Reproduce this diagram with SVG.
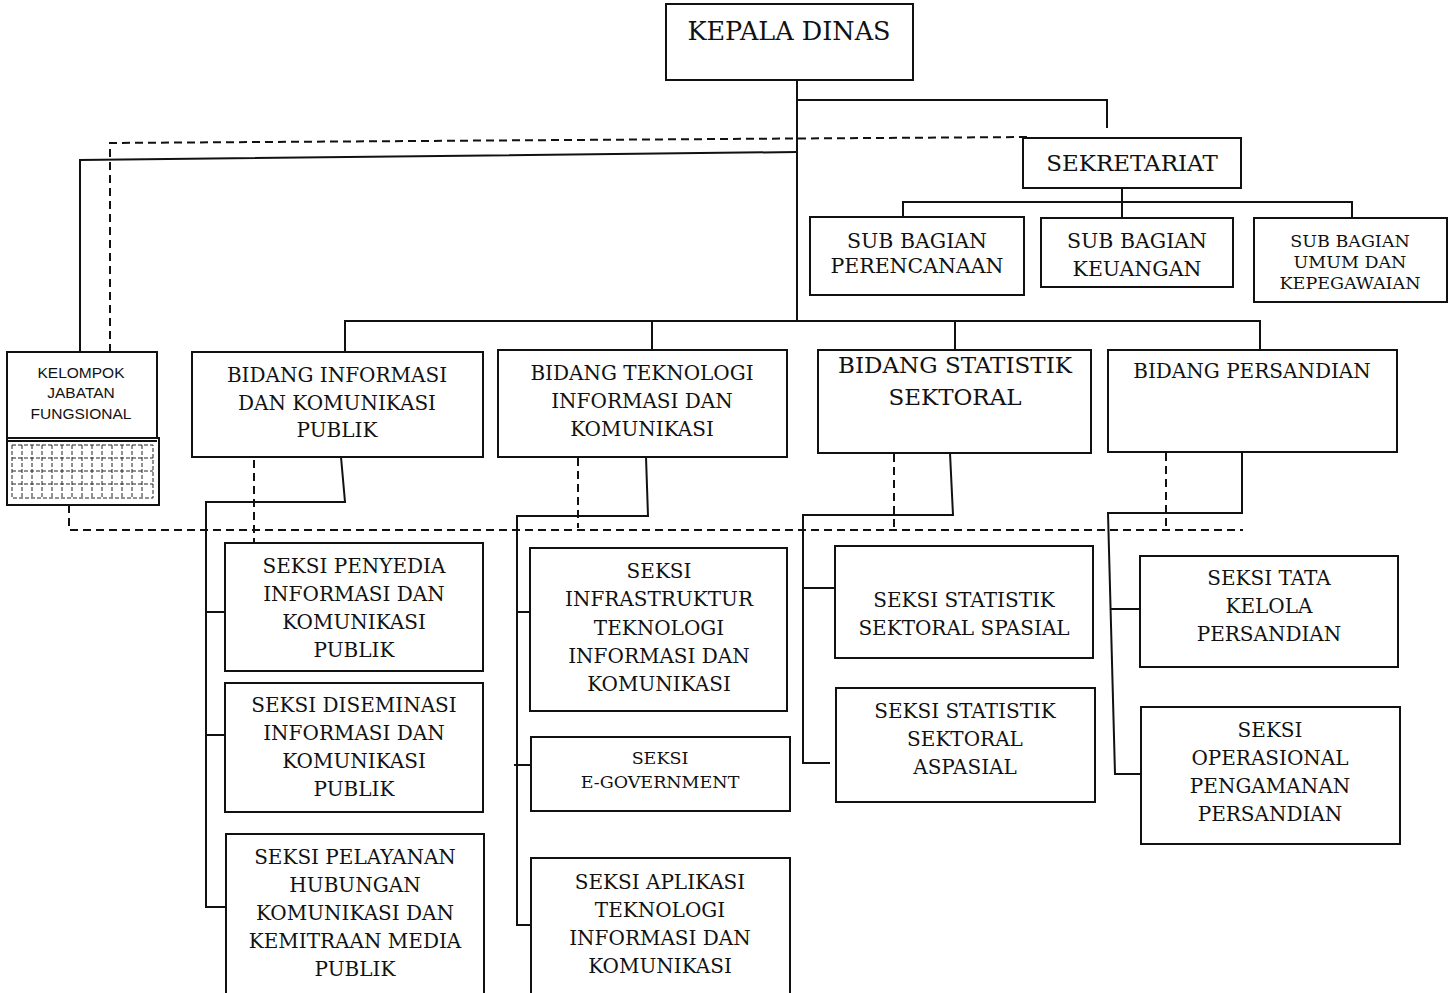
<svg xmlns="http://www.w3.org/2000/svg" width="1454" height="993" viewBox="0 0 1454 993">
<style>
.box{fill:#fff;stroke:#111;stroke-width:2}
.ln{fill:none;stroke:#111;stroke-width:2}
.ds{fill:none;stroke:#111;stroke-width:2;stroke-dasharray:8 5}
.gd{fill:none;stroke:#222;stroke-width:1;stroke-dasharray:4 2}
text{font-family:"DejaVu Serif","Liberation Serif",serif;fill:#111;text-anchor:middle;dominant-baseline:central}
.t{font-size:20px}
.s{font-size:17.5px}
.b{font-size:20px}
.sb{font-size:20.5px}
.a{font-family:"Liberation Sans",Arial,sans-serif;font-size:15.5px}
</style>
<rect width="1454" height="993" fill="#fff"/>
<g id="connectors">
<path class="ln" d="M797 80 V322"/>
<path class="ln" d="M797 100 H1107 V128"/>
<path class="ln" d="M797 152 L80 160 V352"/>
<path class="ds" d="M110 352 V143 L1027 137"/>
<path class="ln" d="M1122 188 V202 M903 217 V202 H1352 V218 M1122 202 V218"/>
<path class="ln" d="M345 352 V321 H1260 V350 M652 321 V350 M955 321 V350"/>
<path class="ds" d="M69 505 V530 H1243"/>
<path class="ln" d="M341 457 L345 502 H206 V907 H226 M206 612 H226 M206 735 H226"/>
<path class="ds" d="M254 460 V542"/>
<path class="ln" d="M646 457 L648 516 H517 V925 H531 M517 612 H531 M514 765 H531"/>
<path class="ds" d="M578 458 V528"/>
<path class="ln" d="M950 453 L953 515 H803 V763 H830 M803 588 H836"/>
<path class="ds" d="M894 454 V528"/>
<path class="ln" d="M1242 452 V513 H1108 L1115 774 H1141 M1110 609 H1140"/>
<path class="ds" d="M1166 453 V528"/>
</g>
<g id="kepala-dinas">
<rect class="box" x="666" y="4" width="247" height="76"/>
<text x="789" y="31" style="font-size:25.5px">KEPALA DINAS</text>
</g>
<g id="sekretariat">
<rect class="box" x="1023" y="138" width="218" height="50"/>
<text x="1132" y="163" style="font-size:23px">SEKRETARIAT</text>
</g>
<g id="sub-perencanaan">
<rect class="box" x="810" y="217" width="214" height="78"/>
<text class="sb" x="917" y="241">SUB BAGIAN</text>
<text class="sb" x="917" y="266">PERENCANAAN</text>
</g>
<g id="sub-keuangan">
<rect class="box" x="1041" y="218" width="192" height="69"/>
<text class="sb" x="1137" y="241">SUB BAGIAN</text>
<text class="sb" x="1137" y="269">KEUANGAN</text>
</g>
<g id="sub-umum">
<rect class="box" x="1254" y="218" width="193" height="84"/>
<text class="s" x="1350" y="241">SUB BAGIAN</text>
<text class="s" x="1350" y="262">UMUM DAN</text>
<text class="s" x="1350" y="283">KEPEGAWAIAN</text>
</g>
<g id="kelompok">
<rect class="box" x="7" y="352" width="150" height="86"/>
<text class="a" x="81" y="372">KELOMPOK</text>
<text class="a" x="81" y="392">JABATAN</text>
<text class="a" x="81" y="413">FUNGSIONAL</text>
<rect class="box" x="7" y="438" width="152" height="67"/>
<path class="ln" d="M8 441 H157"/>
<rect class="gd" x="12" y="445" width="141" height="53"/>
<path class="gd" d="M12 458 H153 M12 471 H153 M12 484 H153 M22 445 V498 M32 445 V498 M42 445 V498 M52 445 V498 M62 445 V498 M72 445 V498 M82 445 V498 M92 445 V498 M102 445 V498 M112 445 V498 M122 445 V498 M132 445 V498 M142 445 V498"/>
</g>
<g id="bidang-ikp">
<rect class="box" x="192" y="352" width="291" height="105"/>
<text class="b" x="337" y="375">BIDANG INFORMASI</text>
<text class="b" x="337" y="403">DAN KOMUNIKASI</text>
<text class="b" x="337" y="430">PUBLIK</text>
</g>
<g id="bidang-tik">
<rect class="box" x="498" y="350" width="289" height="107"/>
<text class="b" x="642" y="373">BIDANG TEKNOLOGI</text>
<text class="b" x="642" y="401">INFORMASI DAN</text>
<text class="b" x="642" y="429">KOMUNIKASI</text>
</g>
<g id="bidang-statistik">
<rect class="box" x="818" y="350" width="273" height="103"/>
<text x="955" y="365" style="font-size:23px">BIDANG STATISTIK</text>
<text x="955" y="397" style="font-size:23px">SEKTORAL</text>
</g>
<g id="bidang-persandian">
<rect class="box" x="1108" y="350" width="289" height="102"/>
<text class="b" x="1252" y="371">BIDANG PERSANDIAN</text>
</g>
<g id="seksi-penyedia">
<rect class="box" x="225" y="543" width="258" height="128"/>
<text class="t" x="354" y="566">SEKSI PENYEDIA</text>
<text class="t" x="354" y="594">INFORMASI DAN</text>
<text class="t" x="354" y="622">KOMUNIKASI</text>
<text class="t" x="354" y="650">PUBLIK</text>
</g>
<g id="seksi-diseminasi">
<rect class="box" x="225" y="683" width="258" height="129"/>
<text class="t" x="354" y="705">SEKSI DISEMINASI</text>
<text class="t" x="354" y="733">INFORMASI DAN</text>
<text class="t" x="354" y="761">KOMUNIKASI</text>
<text class="t" x="354" y="789">PUBLIK</text>
</g>
<g id="seksi-pelayanan">
<rect class="box" x="226" y="834" width="258" height="170"/>
<text class="t" x="355" y="857">SEKSI PELAYANAN</text>
<text class="t" x="355" y="885">HUBUNGAN</text>
<text class="t" x="355" y="913">KOMUNIKASI DAN</text>
<text class="t" x="355" y="941">KEMITRAAN MEDIA</text>
<text class="t" x="355" y="969">PUBLIK</text>
</g>
<g id="seksi-infrastruktur">
<rect class="box" x="530" y="548" width="257" height="163"/>
<text class="t" x="659" y="571">SEKSI</text>
<text class="t" x="659" y="599">INFRASTRUKTUR</text>
<text class="t" x="659" y="628">TEKNOLOGI</text>
<text class="t" x="659" y="656">INFORMASI DAN</text>
<text class="t" x="659" y="684">KOMUNIKASI</text>
</g>
<g id="seksi-egov">
<rect class="box" x="531" y="737" width="259" height="74"/>
<text class="s" x="660" y="758">SEKSI</text>
<text class="s" x="660" y="782">E-GOVERNMENT</text>
</g>
<g id="seksi-aplikasi">
<rect class="box" x="531" y="858" width="259" height="146"/>
<text class="t" x="660" y="882">SEKSI APLIKASI</text>
<text class="t" x="660" y="910">TEKNOLOGI</text>
<text class="t" x="660" y="938">INFORMASI DAN</text>
<text class="t" x="660" y="966">KOMUNIKASI</text>
</g>
<g id="seksi-spasial">
<rect class="box" x="835" y="546" width="258" height="112"/>
<text class="t" x="964" y="600">SEKSI STATISTIK</text>
<text class="t" x="964" y="628">SEKTORAL SPASIAL</text>
</g>
<g id="seksi-aspasial">
<rect class="box" x="836" y="688" width="259" height="114"/>
<text class="t" x="965" y="711">SEKSI STATISTIK</text>
<text class="t" x="965" y="739">SEKTORAL</text>
<text class="t" x="965" y="767">ASPASIAL</text>
</g>
<g id="seksi-tata-kelola">
<rect class="box" x="1140" y="556" width="258" height="111"/>
<text class="t" x="1269" y="578">SEKSI TATA</text>
<text class="t" x="1269" y="606">KELOLA</text>
<text class="t" x="1269" y="634">PERSANDIAN</text>
</g>
<g id="seksi-operasional">
<rect class="box" x="1141" y="707" width="259" height="137"/>
<text class="t" x="1270" y="730">SEKSI</text>
<text class="t" x="1270" y="758">OPERASIONAL</text>
<text class="t" x="1270" y="786">PENGAMANAN</text>
<text class="t" x="1270" y="814">PERSANDIAN</text>
</g>
</svg>
